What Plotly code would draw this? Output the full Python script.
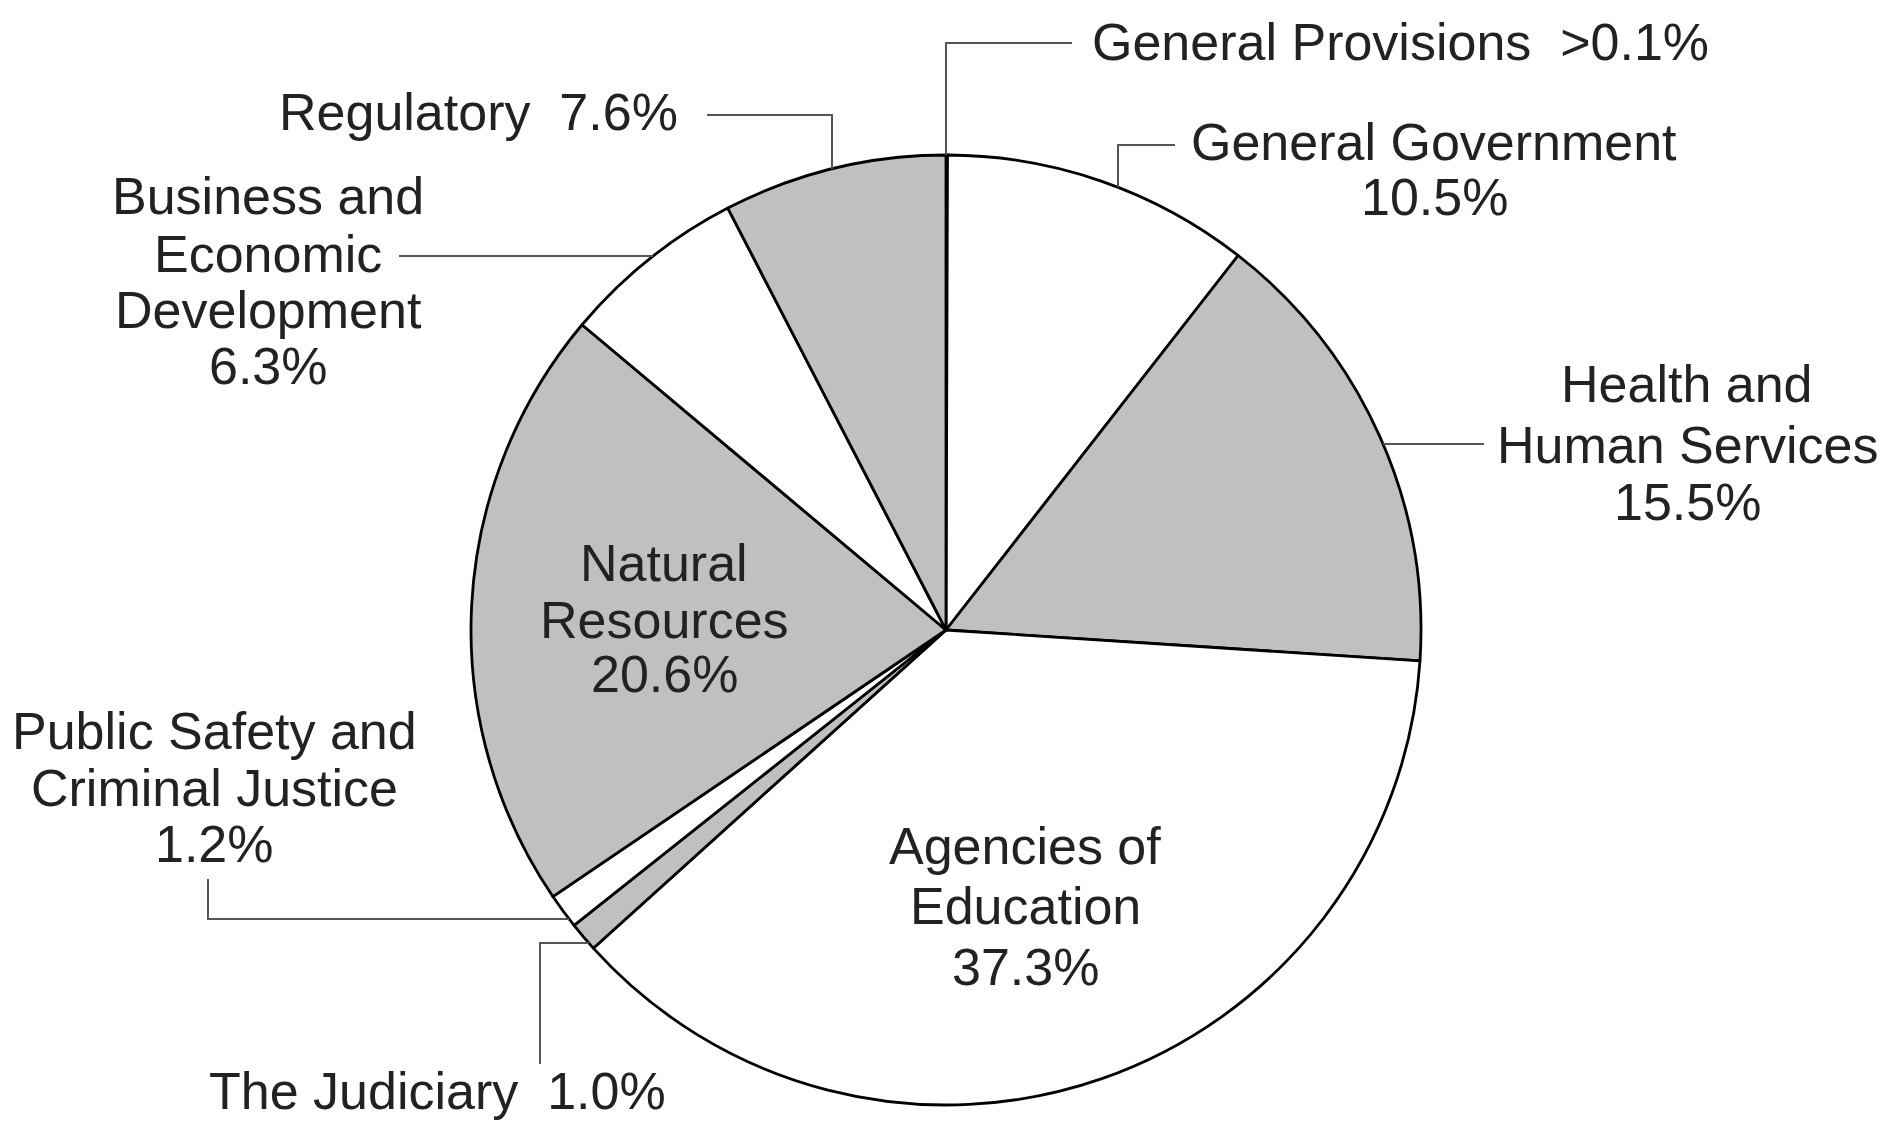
import math
import plotly.graph_objects as go

# ---- data ----
categories = [
    "General Provisions", "General Government", "Health and Human Services",
    "Agencies of Education", "The Judiciary", "Public Safety and Criminal Justice",
    "Natural Resources", "Business and Economic Development", "Regulatory",
]
shares = [0.05, 10.5, 15.5, 37.3, 1.0, 1.2, 20.6, 6.3, 7.6]
share_labels = [">0.1%", "10.5%", "15.5%", "37.3%", "1.0%", "1.2%", "20.6%", "6.3%", "7.6%"]
fills = ["#ffffff", "#ffffff", "#c0c0c0", "#ffffff", "#c0c0c0",
         "#ffffff", "#c0c0c0", "#ffffff", "#c0c0c0"]

W, H = 1895, 1121
CX, CY, R = 946, 630, 475
FONT = dict(family="Liberation Sans, Arial, sans-serif", size=52, color="#222222")


def px(x):
    return x / W


def py(y):
    return 1 - y / H


fig = go.Figure(go.Pie(
    labels=categories,
    values=shares,
    sort=False,
    direction="clockwise",
    rotation=0,
    textinfo="none",
    hoverinfo="label+percent",
    marker=dict(colors=fills, line=dict(color="#000000", width=2.8)),
    domain=dict(x=[px(CX - R), px(CX + R)], y=[py(CY + R), py(CY - R)]),
    showlegend=False,
))


def arc_x(y, side):
    return CX + side * math.sqrt(R * R - (y - CY) ** 2)


def arc_y_top(x):
    return CY - math.sqrt(R * R - (x - CX) ** 2)


leaders = [
    [(CX, CY - R), (CX, 43), (1072, 43)],
    [(1118, arc_y_top(1118)), (1118, 145), (1175, 145)],
    [(arc_x(444, 1), 444), (1484, 444)],
    [(707, 115), (832, 115), (832, arc_y_top(832))],
    [(399, 256), (arc_x(256, -1), 256)],
    [(208, 879), (208, 919), (arc_x(919, -1), 919)],
    [(540, 1064), (540, 943), (arc_x(943, -1), 943)],
]
shapes = []
for pts in leaders:
    path = "M " + " L ".join(f"{px(x):.5f},{py(y):.5f}" for x, y in pts)
    shapes.append(dict(type="path", path=path, xref="paper", yref="paper",
                       line=dict(color="#555555", width=2)))


def note(text, x, y, xanchor="center"):
    return dict(text=text, x=px(x), y=py(y), xref="paper", yref="paper",
                xanchor=xanchor, yanchor="middle", showarrow=False, font=FONT)


anns = [
    note(f"{categories[0]}  {share_labels[0]}", 1090, 42, "left"),
    note("General Government", 1434, 142),
    note(share_labels[1], 1434, 197),
    note("Health and", 1687, 384),
    note("Human Services", 1687, 445),
    note(share_labels[2], 1687, 502),
    note(f"{categories[8]}  {share_labels[8]}", 680, 112, "right"),
    note("Business and", 268, 196),
    note("Economic", 268, 254),
    note("Development", 268, 310),
    note(share_labels[7], 268, 366),
    note("Natural", 664, 563),
    note("Resources", 664, 620),
    note(share_labels[6], 664, 674),
    note("Public Safety and", 214, 731),
    note("Criminal Justice", 214, 788),
    note(share_labels[5], 214, 844),
    note("Agencies of", 1025, 846),
    note("Education", 1025, 906),
    note(share_labels[3], 1025, 967),
    note(f"{categories[4]}  {share_labels[4]}", 668, 1091, "right"),
]

fig.update_layout(
    width=W, height=H,
    margin=dict(l=0, r=0, t=0, b=0),
    paper_bgcolor="#ffffff", plot_bgcolor="#ffffff",
    shapes=shapes, annotations=anns,
)

fig.write_html(
    "out.html",
    config={"displayModeBar": False},
    post_script="document.body.style.margin='0';document.body.style.overflow='hidden';",
)
